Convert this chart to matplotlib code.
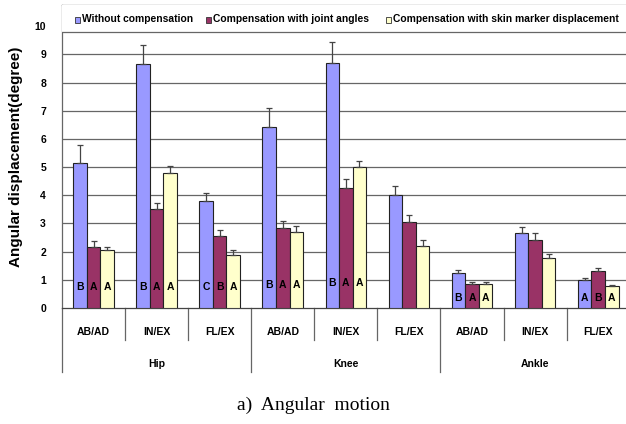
import numpy as np
import matplotlib
matplotlib.use("Agg")
import matplotlib.pyplot as plt
from matplotlib.patches import Rectangle
from matplotlib.transforms import blended_transform_factory

plt.rcParams["font.family"] = ["Liberation Sans", "DejaVu Sans"]

# motion directions and joints
motions = ["AB/AD", "IN/EX", "FL/EX"] * 3
joints = ["Hip", "Knee", "Ankle"]

series_names = ["Without compensation",
                "Compensation with joint angles",
                "Compensation with skin marker displacement"]

# mean angular displacement (degree)
without_comp = [5.15, 8.65, 3.80, 6.42, 8.70, 4.02, 1.25, 2.67, 0.98]
joint_comp = [2.18, 3.52, 2.57, 2.83, 4.27, 3.05, 0.85, 2.40, 1.31]
skin_comp = [2.05, 4.80, 1.88, 2.70, 5.01, 2.21, 0.85, 1.78, 0.77]

# standard deviations (upper error bars)
without_err = [0.63, 0.68, 0.28, 0.68, 0.75, 0.32, 0.09, 0.21, 0.09]
joint_err = [0.20, 0.21, 0.19, 0.24, 0.29, 0.24, 0.06, 0.27, 0.12]
skin_err = [0.13, 0.25, 0.16, 0.20, 0.20, 0.19, 0.08, 0.13, 0.06]

# post-hoc grouping letters (empty = no letters shown)
letters = [["B", "A", "A"], ["B", "A", "A"], ["C", "B", "A"],
           ["B", "A", "A"], ["B", "A", "A"], ["", "", ""],
           ["B", "A", "A"], ["", "", ""], ["A", "B", "A"]]
letter_y = [0.74, 0.74, 0.74, 0.83, 0.87, 0, 0.37, 0, 0.37]

colors = ["#9999FF", "#993366", "#FFFFCC"]

fig = plt.figure(figsize=(6.26, 4.24), dpi=100)
ax = fig.add_axes([0.099, 0.2736, 0.907, 0.7146])

x = np.arange(len(motions)) + 0.5
w = 0.215
values = [without_comp, joint_comp, skin_comp]
errors = [without_err, joint_err, skin_err]

for k in range(3):
    xs = x + (k - 1) * w
    ax.bar(xs, values[k], width=w, color=colors[k], edgecolor="#222222",
           linewidth=0.8, zorder=3)
    ax.errorbar(xs, values[k], yerr=[np.zeros(len(xs)), errors[k]],
                fmt="none", ecolor="#444444", elinewidth=0.9, capsize=2.2,
                capthick=0.9, zorder=4)
    for i in range(len(xs)):
        if letters[i][k]:
            ax.text(xs[i], letter_y[i], letters[i][k], ha="center", va="center",
                    fontsize=7.5, fontweight="bold", color="black", zorder=5)

ax.set_xlim(0, 9)
ax.set_ylim(0, 10.75)
ax.set_yticks(range(0, 11))
ax.set_yticklabels([str(v) for v in range(0, 11)], fontsize=7.5, fontweight="bold")
ax.tick_params(axis="y", length=0, pad=11.5)
ax.set_xticks([])
for v in range(1, 10):
    ax.axhline(v, color="#666666", linewidth=0.9, zorder=1)

for side in ["top", "right"]:
    ax.spines[side].set_linewidth(0.9)
    ax.spines[side].set_color("#666666")
ax.spines["left"].set_color("#666666")
ax.spines["left"].set_linewidth(0.9)
ax.spines["bottom"].set_color("#444444")
ax.spines["bottom"].set_linewidth(0.9)

ax.set_ylabel("Angular displacement(degree)", fontsize=11, fontweight="bold",
              labelpad=8)

# category dividers and labels below the axis
trans = blended_transform_factory(ax.transData, ax.transAxes)
for i in range(10):
    depth = -0.211 if i % 3 == 0 else -0.106
    ax.plot([i, i], [0, depth], transform=trans, color="#666666",
            linewidth=0.9, clip_on=False)
for i, m in enumerate(motions):
    ax.text(x[i], -0.078, m, transform=trans, ha="center", va="center",
            fontsize=7.5, fontweight="bold")
for j, name in enumerate(joints):
    ax.text(3 * j + 1.5, -0.185, name, transform=trans, ha="center",
            va="center", fontsize=7.5, fontweight="bold")

# legend strip across the top of the plot
ax.add_patch(Rectangle((0, 9.78), 9, 0.97, facecolor="white",
                       edgecolor="none", zorder=6))
ax.axhline(9.78, color="#666666", linewidth=0.9, zorder=7)
legend_x = [75, 206, 386]
for k in range(3):
    fx = legend_x[k] / 626
    fig.patches.append(Rectangle((fx, 1 - 22.5 / 424), 5 / 626, 5 / 424,
                                 transform=fig.transFigure, facecolor=colors[k],
                                 edgecolor="#333333", linewidth=0.6,
                                 zorder=8))
    fig.text(fx + 7 / 626, 1 - 19.5 / 424, series_names[k], ha="left",
             va="center", fontsize=7.4, fontweight="bold")

fig.text(0.5, 1 - 405 / 424, "a)  Angular  motion", ha="center", va="center",
         fontsize=14, family="Liberation Serif")

fig.savefig("out.png", dpi=100)
